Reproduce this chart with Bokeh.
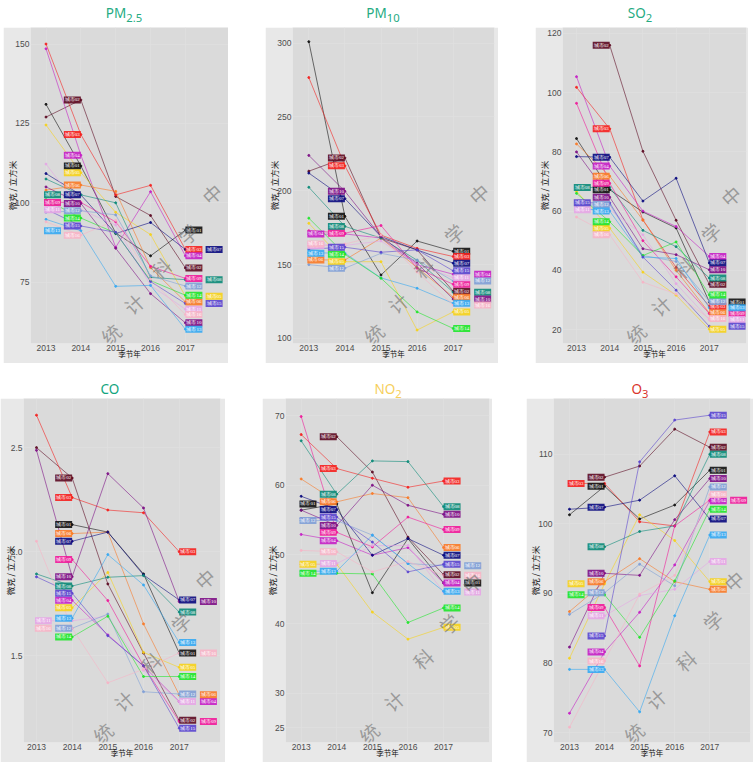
import numpy as np
from bokeh.plotting import figure
from bokeh.layouts import column, row
from bokeh.models import ColumnDataSource, Div, FixedTicker, Label, PrintfTickFormatter
from bokeh.embed import file_html
from bokeh.resources import INLINE

years = [2013, 2014, 2015, 2016, 2017]
# city names in the picture are too blurred to read
cities = ["城市01", "城市02", "城市03", "城市04", "城市05", "城市06", "城市07", "城市08",
          "城市09", "城市10", "城市11", "城市12", "城市13", "城市14", "城市15", "城市16"]
keys = ["black", "maroon", "red", "orchid", "gold", "orange", "navy", "teal",
        "hotpink", "purple", "plum", "steel", "sky", "lime", "slate", "pink"]
colors = ["#111111", "#5c0a22", "#f5201e", "#c51fc5", "#f6d21a", "#f97a27", "#0a0a7e", "#0b8a78",
          "#f01a9a", "#7d0f85", "#e6a6e6", "#7f9fd6", "#35a8f2", "#1fe62a", "#5a45cf", "#f7b4c6"]

N = None
# rows follow the order of cities
pm25 = [[131, 111.6, 90.5, 83.3, 91.4], [127, 132.4, 102, 96, 79.5], [150, 121.5, 102.5, 105.5, 85.3],
        [148.5, 115, 86, 103.5, 83.3], [124.5, 109.5, 97, 90, 70.6], [104, 105.6, 103.6, 79.6, 68.8],
        [109.2, 102.5, 90.3, 93.8, 85.3], [107.5, 102.5, 100, 76.5, 75.8], [100.2, 100.1, 94, 80, 76.2],
        [105, 99.8, 85.7, 71.4, 62.2], [112.2, 97.8, 93, 74, 66.5], [97, 97.5, 96.2, 77, 73.8],
        [94.8, 91.2, 73.7, 74, 60.2], [101, 95.2, 90.5, 75.5, 70.9], [98, 92.7, 90.7, 75.2, 68.3],
        [94, 89.8, 94.5, 76, 64.8]]
pm10 = [[301, 182.7, 143, 166, 159], [213.3, 222.3, 168, 160, 132], [276.7, 216.9, 170, 161, 155.5],
        [170.5, 170.8, 168, 150, 143.5], [178, 152, 152, 105.7, 118], [153.2, 153.2, 168, 148, 128],
        [212, 194.7, 169, 160, 151], [202.4, 175.9, 168, 153, 131.3], [173, 171.3, 176.5, 147.6, 136.7],
        [224, 199.7, 169, 151, 126.7], [163, 163, 166, 150, 141.2], [150, 147.6, 157.7, 153, 139],
        [158, 157.8, 141, 134, 123.8], [181.5, 157, 140.8, 118, 106.8], [160.5, 161.8, 158.4, 160, 145.8],
        [163, 164, 170, 145, 122.6]]
so2 = [[84.5, 67.2, 59.7, 54.3, 29.3], [N, 116, 80.2, 56.9, 35.3], [101.8, 87.8, 57, 41, 27.9],
       [105.4, 75.2, 60, 54.8, 44.7], [66.7, 54.2, 39.4, 31.6, 20.1], [82.7, 71.8, 57, 40, 25.6],
       [78.4, 78.2, 63.4, 71.1, 42.5], [68, 68, 53.5, 48, 37.4], [96.4, 69.4, 50, 37.8, 25.4],
       [80, 64.7, 47.3, 45.3, 40.2], [60.5, 60.5, 52, 35.5, 23.4], [62, 62.2, 45, 43, 29.5],
       [61, 60, 44.5, 44, 27.4], [66, 56.4, 45, 49.6, 31.7], [62.8, 62.8, 44.5, 33.3, 21.1],
       [58, 52, 36, 32, 23.7]]
co = [[N, 2.13, 2.094, 1.893, 1.513], [2.5, 2.354, 1.845, 1.513, 1.19], [2.656, 2.26, 2.2, 2.187, 2.0],
      [N, 1.766, 1.6, 1.45, 1.28], [N, 1.73, 1.9, 1.516, 1.444], [N, 2.087, 2.094, 1.653, 1.312],
      [N, 2.05, 2.094, 1.888, 1.768], [1.893, 1.835, 1.877, 1.885, 1.71], [N, 1.962, 1.765, 1.452, 1.184],
      [2.487, 1.879, 2.375, 2.21, 1.76], [1.668, 1.668, 1.69, 1.43, 1.28], [N, 1.632, 1.7, 1.327, 1.316],
      [N, 1.68, 1.986, 1.84, 1.564], [N, 1.59, 1.69, 1.4, 1.4], [1.879, 1.8, 1.596, 1.452, 1.152],
      [2.05, 1.632, 1.37, 1.435, 1.513]]
no2 = [[56.4, 57.3, 44.5, 52.3, 45.9], [N, 67, 61.9, 52.5, 47.1], [67.3, 62.4, 61, 59.7, 60.6],
       [52.9, 52, 49.9, 51, 45.9], [48.6, 48.6, 41.7, 37.8, 39.5], [60.9, 57.6, 58.8, 58.2, 51],
       [58.4, 56.5, 49.9, 52.3, 49.9], [66.4, 58.7, 63.5, 63.4, 56.9], [69.9, 53.2, 51.1, 55.4, 53.6],
       [56.4, 54.2, 60, 57.1, 55.8], [48.5, 48.7, 51.3, 51.3, 44.6], [54.9, 54.9, 52.8, 48.7, 48.4],
       [47.6, 47.6, 52.8, 48.7, 44.7], [47.1, 47.3, 47.2, 40.2, 42.3], [55.2, 55.4, 51.8, 47.5, 48.6],
       [50.6, 50.4, 47.5, 49, 47]]
o3 = [[101.3, 105.4, 100.7, 102.7, 107.7], [N, 106.7, 108.3, 113.6, 111], [105.8, 105.8, 100.3, 99.7, 113.2],
      [72.8, 81.6, 87.3, 94.1, 103.3], [80.7, 91.4, 101.3, 97.6, 91.7], [87.4, 91.7, 95, 91.7, 90.6],
      [102.1, 102.4, 103.4, 106.9, 100.7], [N, 96.7, 98.9, 99.7, 110], [N, 88, 79.6, 99.7, 103.4],
      [82.3, 92.9, 92.6, 100.6, 106.5], [N, 86.8, 89.7, 90.6, 94.6], [87, 90.1, 94.2, 91.1, 105.3],
      [79.1, 79.1, 73, 86.8, 98.4], [89.8, 89.8, 83.7, 91.8, 102.1], [N, 83.9, 108.9, 114.9, 115.6],
      [70.8, 80.3, 89.9, 92.6, 104.2]]

title_color = {"green": "#25ab82", "co": "#12a57e", "yellow": "#f6cf5c", "red": "#d9352c"}
font = "Noto Sans CJK SC"
label_left = -0.57    # year offset of labels pushed to the left at 2014
label_right = 0.58    # year offset of labels pushed to the right at 2017


def panel(values, html, color, yticks, xr, yr, width, height, borders, left_labels, right_labels, marks, gap, shift, ystand):
    lb, rb, bb = borders
    p = figure(width=width, height=height, x_range=xr, y_range=yr, output_backend="svg",
               toolbar_location=None, min_border_left=lb, min_border_right=rb,
               min_border_top=0, min_border_bottom=bb, x_axis_label="季节年",
               y_axis_label="微克 / 立方米")
    p.background_fill_color = "#dadada"
    p.border_fill_color = "#e8e8e8"
    p.outline_line_color = None
    p.grid.grid_line_color = "#e0e0e0"
    p.grid.grid_line_width = 0.7
    p.xaxis.ticker = FixedTicker(ticks=years)
    p.yaxis.ticker = FixedTicker(ticks=yticks)
    for ax in [p.xaxis[0], p.yaxis[0]]:
        ax.axis_line_color = None
        ax.major_tick_line_color = None
        ax.minor_tick_line_color = None
        ax.major_tick_out = 0
        ax.major_tick_in = 0
        ax.minor_tick_out = 0
        ax.minor_tick_in = 0
        ax.major_label_text_font_size = "8.5px"
        ax.major_label_text_color = "#4d4d4d"
        ax.major_label_text_font = "Liberation Sans"
        ax.major_label_standoff = 1
        ax.axis_label_text_font = font
        ax.axis_label_text_font_style = "normal"
        ax.axis_label_text_color = "#111111"
    p.xaxis.axis_label_text_font_size = "7.5px"
    p.yaxis.axis_label_text_font_size = "8.5px"
    p.xaxis.axis_label_standoff = -6
    p.yaxis.axis_label_standoff = ystand
    if max(yticks) < 10:
        p.yaxis.formatter = PrintfTickFormatter(format="%.1f")

    lab = dict(x=[], y=[], text=[], color=[], align=[])
    for i, vals in enumerate(values):
        v = np.array(vals, dtype=float)
        p.line(years, v, line_color=colors[i], line_width=0.9, line_alpha=0.65)
        p.scatter(years, v, size=2, color=colors[i], alpha=0.9)
        lx = 2014 + (label_left if keys[i] in left_labels else 0)
        rx = 2017 + (label_right if keys[i] in right_labels else 0)
        lab["x"] += [lx, rx]
        lab["y"] += [v[1], v[4]]
        lab["text"] += [cities[i], cities[i]]
        lab["color"] += [colors[i], colors[i]]
        lab["align"] += ["right", "left"]
    p.text("x", "y", text="text", source=ColumnDataSource(lab), text_color="white",
           text_font_size="5px", text_font=font, text_align="align", text_baseline="middle",
           background_fill_color="color", background_fill_alpha=0.9, padding=1)

    # watermark, offsets from the plot frame corner
    for ch, (mx, my) in zip("统计科学中", marks):
        p.add_layout(Label(x=mx, y=my, x_units="screen", y_units="screen", text=ch,
                           angle=42, angle_units="deg", text_align="center", text_baseline="middle",
                           text_font_size="19px", text_font=font, text_color="#6e6e6e", text_alpha=0.6))

    title = Div(text=f'<div style="width:{width}px;text-align:center;color:{color};font:13.5px/{gap}px \'Noto Sans\';'
                     f'position:relative;left:{shift}px;white-space:nowrap">{html}</div>',
                width=width, height=gap, margin=0)
    return title, p


t1, p1 = panel(pm25, "PM<sub>2.5</sub>", title_color["green"], [75, 100, 125, 150],
               (2012.555, 2018.237), (55.7, 155.2), 225, 336, (27, 0, 20),
               ["teal", "hotpink", "plum", "sky"], ["navy", "teal", "gold", "slate"],
               [(80, 10), (103, 40), (130, 76), (157, 110), (181, 150)], 27, 8.5, -6)
t2, p2 = panel(pm10, "PM<sub>10</sub>", title_color["green"], [100, 150, 200, 250, 300],
               (2012.548, 2018.144), (96.6, 310.6), 233, 336, (27, 4, 20),
               ["orchid", "plum", "sky", "orange", "pink"], ["orchid", "steel", "teal", "purple", "pink"],
               [(81, 10), (105, 41), (131, 76), (161, 110), (186, 150)], 27, 1.5, -6)
t3, p3 = panel(so2, "SO<sub>2</sub>", title_color["green"], [20, 40, 60, 80, 100, 120],
               (2012.578, 2018.12), (15.3, 122), 213, 336, (27, 2, 20),
               ["teal", "slate", "plum"], ["black", "sky", "hotpink", "plum", "slate"],
               [(73, 10), (98, 38), (121, 76), (148, 111), (168, 148)], 27, -1.5, -6)
t4, p4 = panel(co, "CO", title_color["co"], [1.5, 2.0, 2.5],
               (2012.636, 2018.158), (1.083, 2.736), 225, 364, (23, 5, 20),
               ["plum", "pink"], ["purple", "pink", "orange", "orchid", "hotpink"],
               [(79, 10), (100, 42), (127, 80), (157, 120), (181, 164)], 18, -2.5, -8)
t5, p5 = panel(no2, "NO<sub>2</sub>", title_color["yellow"], [25, 30, 40, 50, 60, 70],
               (2012.56, 2018.29), (22.9, 72.5), 230, 364, (23, 3, 20),
               ["black", "steel", "gold", "lime"], ["steel", "pink", "black", "plum"],
               [(83, 10), (108, 42), (137, 84), (163, 119), (186, 160)], 18, 11, -6)
t6, p6 = panel(o3, "O<sub>3</sub>", title_color["red"], [70, 80, 90, 100, 110],
               (2012.544, 2018.161), (68.6, 118), 227, 364, (27, 3, 20),
               ["red", "gold", "lime"], ["hotpink"],
               [(80, 10), (102, 44), (132, 82), (159, 122), (180, 162)], 18, 0.5, -6)

top = row(column(t1, p1, margin=(0, 0, 0, 3)), column(t2, p2, margin=(0, 0, 0, 37)),
          column(t3, p3, margin=(0, 0, 0, 37)))
bottom = row(column(t4, p4, margin=(17, 0, 0, 0)), column(t5, p5, margin=(17, 0, 0, 37)),
             column(t6, p6, margin=(17, 0, 0, 34)))
page = column(top, bottom)

open("out.html", "w").write(file_html(page, INLINE))
